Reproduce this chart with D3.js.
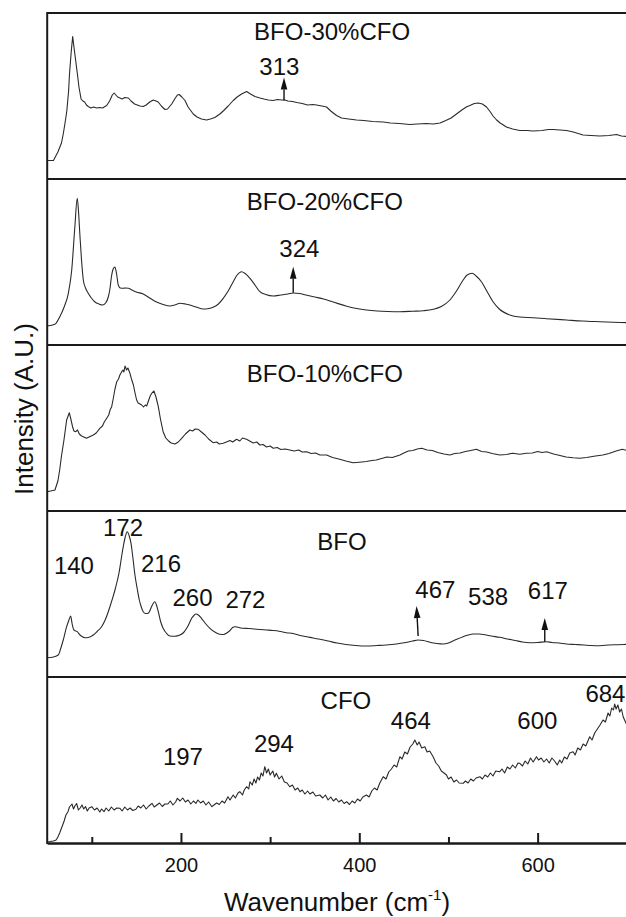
<!DOCTYPE html>
<html>
<head>
<meta charset="utf-8">
<script src="https://cdn.jsdelivr.net/npm/d3@7"></script>
<style>
  html, body { margin: 0; padding: 0; background: #fff; }
  svg { display: block; }
  text { font-family: "Liberation Sans", Arial, Helvetica, sans-serif; fill: #111; }
</style>
</head>
<body>
<script>
// Raman spectra of BFO, CFO and BFO–CFO composites (stacked panels)

const titles = ["BFO-30%CFO", "BFO-20%CFO", "BFO-10%CFO", "BFO", "CFO"];

// [wavenumber (cm^-1), intensity (a.u.)]
const bfo30 = [[50,18.5],[57,18.5],[62,27],[66,36],[68,45],[70,56],[72,68],[74,88],[75,105],[77,128],[78.6,142.5],[80,132],[82,118],[84,104],[85.6,92],[88,80],[90,78],[92,77],[94,74],[96,72.5],[99,71],[102,72],[105.5,71],[109,71.5],[112,71],[116.7,73.5],[120,78],[123,84],[125,86],[127,84],[129,82],[131.6,81],[134,80],[137,81.5],[141,81],[144,78],[148,75],[151,74],[154,73],[157.7,72.5],[161,74],[165,77],[169,79],[172,78],[174.5,77],[178,73],[182,69.5],[185,70],[189.6,75],[193,80],[196,84],[198,84.5],[201,82],[204.5,78.5],[208,72],[213.8,65],[218,62],[223,60],[228.8,59],[233,60],[238,61.5],[243.7,65],[248,68.5],[253,73],[258.6,78.5],[263,82],[268,85],[273.6,87.5],[278,85],[283,82.5],[288.6,81],[293,80],[298,79],[303.5,78.5],[308,79.5],[313,79],[316.6,79],[320,78],[325,77.5],[330,76.5],[336,75.5],[342,74],[348,74.5],[352,74],[358,73],[363.3,72],[368,68],[374.5,63.5],[380,61],[388,60],[397,59],[405,58.5],[415,57.5],[426.8,57],[435,56],[445,55.5],[456.7,54.5],[465,55],[475,55.5],[483,55],[490.6,56],[497,58.5],[503,61],[509,65],[515,69],[520,72],[524,73.5],[529,75.5],[533.4,76],[538,75],[542.7,72],[547,67],[550,63],[554,59],[558,56],[565,52],[572,50],[580,48.5],[588,48.5],[595,48],[605,48.5],[612,49.5],[617.4,49.5],[625,49],[632.4,48.5],[640,47],[651,44],[660,43.5],[669.7,43],[680,43.5],[688.5,44.5],[694,43],[700,42.5]];

const bfo20 = [[50,19],[58.7,20.7],[64,28],[69,38],[73.7,51.7],[77.5,75],[81,118],[83.7,146.7],[85,135],[86.8,108],[88.5,85],[90.5,65],[93,57],[96,51.7],[99.5,47],[103.6,43],[108,41],[112,40],[115.5,42],[118.5,48],[120.5,57],[122,68],[124,76],[126,78],[128,70],[129.7,60],[132,57],[135.3,56.7],[138,57],[141,56.7],[145,55],[150,53],[157.7,51],[165,47],[172.6,43],[180,40.5],[187.7,39],[193,40],[199,41.7],[205,41],[210,40],[217,38],[225,36],[230,36.2],[236,37.7],[242,41],[247.4,46.7],[253,54],[258.6,63.3],[263,70],[268,73.3],[272,71.5],[277.4,66.7],[283,60],[288.5,53.3],[295,50.5],[303.5,49],[312,50],[320,51],[326,52],[333,51.5],[340,50],[350,48],[360,46],[370.7,43],[385,39],[397,36.5],[408,35],[420,34],[432,33.5],[445.5,33.3],[460,33.8],[472,34.3],[483,35.7],[492,38.5],[501.6,45],[509,54],[516.5,65],[521,70],[526.6,71.7],[531,69],[537,63.3],[543,54],[550,43.3],[557,36],[568.8,30],[580,28],[595,27.3],[610,26.3],[632.4,25],[650,24],[669.7,23.3],[685,22.8],[700,22.3]];

const bfo10 = [[50,19.3],[58.7,21],[62,30],[64,41],[66,55],[68.8,71],[71.8,91],[74.8,98.3],[76.5,92],[78.6,83.7],[80,80],[82,79.3],[84,81],[86,77],[88.6,75],[91,74],[94,72.7],[97,74],[101.7,76],[105,78],[109,82.7],[112,85],[114,89],[116.7,92.7],[119,96],[120.5,101],[122.3,104.3],[124,112],[126,122],[128,129.3],[130,132],[131.5,136],[133.6,139.3],[135,141],[136,139],[137.3,145],[139,141],[140.5,143],[142.8,137.7],[144.5,132],[146.7,126],[148.5,118],[150.3,111],[152,108],[154,107],[156,106],[158,104],[160,106],[161.6,105],[163.5,110],[165.5,115],[167.2,117.7],[169.7,120],[172,114],[174.6,104.3],[177,92],[180,79.3],[183,73],[185.8,70.3],[189,68],[193.3,67],[197,69],[200.8,72.7],[205,77],[210,81],[213,80],[216,82],[219.4,81.7],[223,79],[227,76],[231,72],[236,68.3],[240,69],[243,67],[247.4,67.7],[251,69],[255,70.5],[258,69],[262.4,71.7],[266,70],[269,73],[273.6,71.7],[277,70],[281,68],[285,69],[288.5,66],[292,66.5],[296,64],[300,65],[303.5,62.7],[308,63.5],[312,61.5],[317,62],[322,61],[327,60],[332,61],[336,59],[341,59.3],[346,57.5],[351,58],[355.8,56],[363.3,56],[370,53.5],[377,52],[385,50],[393,48.3],[400,48.8],[408,49.5],[414,50.5],[419,51],[425,52.5],[431,54],[437,53.5],[445.5,56],[450,58],[455,60],[460,60.5],[465,62],[470,62.7],[476,61],[482,60.5],[488,58.5],[495,57],[501.6,56],[507,57.5],[513,58],[519,59.5],[525,60.5],[531.5,61.7],[537,59.5],[543,59],[549,57.5],[557.6,56],[565,56.5],[572,57.8],[580,56.8],[587.5,57.7],[594,58],[600,59.5],[605,58.5],[610,59.3],[618,57],[625,55.5],[632,54],[640,53.2],[647,52.7],[655,53.5],[663,54.8],[673,56],[680,57.5],[688,60],[695,61.7],[700,60.5]];

const bfo = [[50,19.3],[56,19.8],[62.4,22],[65,28],[68,37],[71.8,50.3],[74,56],[76.3,61],[78,53],[80,47],[83.7,45.3],[86.8,42],[89,40.5],[92.4,39.3],[96,39.5],[101.7,42],[106,45.5],[111,50.3],[115,57],[118.5,65.3],[122,75],[126,87],[128.5,96],[130.8,105.3],[133,118],[135.3,130.3],[137.5,140],[139.8,145.3],[142,141],[144,133.7],[146,120],[148.4,102],[151,88],[153.3,77],[155.5,70],[157.7,65.3],[160.5,63.5],[163.3,63.7],[165,66],[167,70.3],[170.8,75.3],[172.5,72],[174.6,65.3],[177,56],[180,48.7],[184,43.5],[187.7,41],[193,40.8],[198.9,42],[203,44.5],[206.4,48.7],[209,53],[212,58.7],[214.5,61.5],[216.8,63],[219.5,62],[223,58.7],[227,54],[232.5,48.7],[238,45],[243.7,42.7],[248,42.5],[251,43.7],[255,46.5],[258,49.5],[260.5,50.3],[264,49.7],[269.8,48.7],[276,48.5],[282,48],[289,47.5],[296,47],[303,46.5],[310,45.8],[318.4,44.3],[326,43.5],[333.4,41.5],[341,40.3],[348,39],[355.8,37.7],[365,36],[375,34],[385,32.5],[396,31.5],[408,31],[420,31.5],[430,32],[441.6,33],[452,34.5],[460,36],[466,37],[472,36.5],[480,34.5],[487,33.5],[494,33],[500,34],[505,36],[510,38],[516.5,40.3],[522,42],[528,43],[535,43],[541,42.2],[548,41],[557.6,39.7],[566,38],[575,36.5],[583,35],[591,34.3],[600,34.5],[610,35.3],[616,34.5],[624,34],[632.4,33],[642,32.5],[652,32],[660,31.5],[669.7,31.3],[680,32],[690,32.3],[700,32.7]];

const cfo = [[50,1.3],[53,1.5],[57,2],[60,3],[62,6],[64,10],[66.6,16.3],[69,22],[71,28],[73.3,31.3],[75,36],[77.8,39],[79.5,34],[81,37],[83,39.5],[85,33],[87,35],[89,38],[91,34],[93,36.5],[95,32],[97,35],[100,36.3],[103,33],[106,35],[109,31],[111,34],[113.7,31.3],[116,35],[119,32],[122,36],[125,33],[128,35],[131.6,34.7],[134,32],[137,36],[140,33],[143,35],[146,32.5],[149.5,33.7],[152,37],[155,35],[158,38],[161,34],[164,37],[167.5,39.7],[170,36],[173,38],[176,40],[179,36.5],[182,39],[185.4,39],[188,42],[191,38],[194,41],[196,44.7],[199,42],[202,45],[205,41],[208,43],[211,39],[214,42],[216.8,39.7],[219,43],[222,40],[225,42],[228,38],[231,41],[234.7,36.3],[237,38],[240,40],[243,38.5],[246,42],[249,40],[252.7,46.3],[255,43],[258.6,48],[261,45],[264,50],[266,51.3],[269,48],[271,53],[273.6,56.3],[276,54],[277.4,61.3],[280,58],[282,64],[284,60],[286,66],[288,63],[290,70],[292,67],[294,76.3],[296,70],[298,74],[300,68],[303,72],[305,66],[307,69.7],[310,64],[313,67],[316,61],[319,60],[322,56.3],[325,58],[328,53],[331,55],[333.4,51.3],[336,53],[339,49],[342,52],[344.6,49],[348,51],[351,47],[355.8,48],[359,45],[362,48],[365,43],[368,46],[371,42],[374,44.5],[377,41],[380,43],[383,39.5],[385.8,41.3],[389,38.5],[392,42],[395,40],[398,44],[401,42],[404,46],[408,48],[411,46],[414,52],[417,55],[420,53],[423,60],[426.8,66.3],[430,64],[433,71],[436,74],[439,78],[442,76],[445.5,86.3],[448,84],[451,91],[454,89],[457,96],[460,99],[462.3,103],[465,98],[467,101],[470,95],[473.5,96.3],[476,91],[479,92],[482.8,86.3],[486,80],[489,77],[492,72],[495,70],[497.8,68],[500,64],[503,66],[506,61],[509,63],[512,60],[516.5,59.7],[519,62],[522,60],[525,64],[528,62],[531,65],[535.3,66.3],[538,64],[541,68],[544,66],[547,70],[550,67],[553,72],[557.6,71.3],[560,74],[563,70],[566,76],[569,74],[572,78],[575,75],[578,80],[580,79.7],[583,77],[586,82],[589,79],[592,85],[595,81],[598.7,86.3],[601,83],[604,85],[607,81],[610,84],[613,80],[616,85],[619,82],[622,78],[624.8,83],[627,80],[630,86],[633,84],[636,90],[639.7,91.3],[642,88],[645,95],[648,93],[651,99],[654,97],[658.4,106.3],[661,103],[664,110],[667,114],[670,118],[673.3,123],[676,121],[679,130],[681,127],[683,135],[685,133],[686.4,139],[688,134],[690,138],[692,131],[694,134],[696,126],[698,122],[700,118]];

const seriesList = [bfo30, bfo20, bfo10, bfo, cfo];
const smoothPanels = [false, true, false, true, false];

// Peak labels: panel index, text, wavenumber, intensity of the text baseline
const peakLabels = [
  [0, "313", 310.4, 104.5],
  [1, "324", 332.8, 88],
  [3, "140", 80, 103], [3, "172", 135, 141], [3, "216", 177.6, 105],
  [3, "260", 213, 71.3], [3, "272", 272.3, 69], [3, "467", 485.3, 79],
  [3, "538", 544.5, 72], [3, "617", 611.5, 78],
  [4, "197", 202.2, 78], [4, "294", 304.3, 91], [4, "464", 457.8, 114],
  [4, "600", 599.7, 114], [4, "684", 676, 141.3]
];
// Arrows: panel index, tail [wn, intensity], head [wn, intensity]
const peakArrows = [
  [0, [315.6, 78.5], [315.6, 101.5]],
  [1, [325.9, 52.3], [325.9, 78.3]],
  [3, [466, 41], [464.2, 71]],
  [3, [608, 35.3], [608, 59]]
];
// Panel titles: wavenumber of centre, intensity of baseline
const titlePos = [[369.5, 139.2], [361.4, 135], [361.4, 129.3], [380.5, 127], [385, 134]];

const xTicksMajor = [200, 400, 600];
const xTicksMinor = [100, 300, 500, 700];

const W = 626, H = 917;
const plotLeft = 47.2, plotRight = 626.8, plotTop = 13, plotBottom = 843;

const svg = d3.select("body").append("svg").attr("width", W).attr("height", H);

const x = d3.scaleLinear().domain([50, 700]).range([plotLeft, plotRight]);
const band = d3.scaleBand().domain(d3.range(titles.length)).range([plotTop, plotBottom]).paddingInner(0);
const ph = band.bandwidth();
const yScales = d3.range(titles.length).map(i =>
  d3.scaleLinear().domain([0, ph]).range([band(i) + ph, band(i)]));

svg.append("clipPath").attr("id", "plotclip")
  .append("rect").attr("x", plotLeft).attr("y", plotTop)
  .attr("width", plotRight - plotLeft).attr("height", plotBottom - plotTop);

// spectra
const plot = svg.append("g").attr("clip-path", "url(#plotclip)");
seriesList.forEach((data, i) => {
  const y = yScales[i];
  const line = d3.line().x(d => x(d[0])).y(d => y(d[1]))
    .curve(smoothPanels[i] ? d3.curveMonotoneX : d3.curveLinear);
  plot.append("path").datum(data)
    .attr("d", line)
    .attr("fill", "none")
    .attr("stroke", "#2a2a2a")
    .attr("stroke-width", 1.1)
    .attr("stroke-linejoin", "round");
});

// frame: left axis, top border and panel separators
const frame = svg.append("g").attr("stroke", "#1a1a1a").attr("stroke-width", 2).attr("fill", "none");
frame.append("line").attr("x1", plotLeft).attr("x2", plotLeft).attr("y1", plotTop - 1).attr("y2", plotBottom + 1);
d3.range(titles.length).forEach(i => {
  frame.append("line").attr("x1", plotLeft).attr("x2", plotRight)
    .attr("y1", band(i)).attr("y2", band(i));
});

// bottom axis
const axMinor = d3.axisBottom(x).tickValues(xTicksMinor).tickSizeInner(-6).tickSizeOuter(0).tickFormat("");
const axMajor = d3.axisBottom(x).tickValues(xTicksMajor).tickSizeInner(-10).tickSizeOuter(0).tickPadding(15);
const gMinor = svg.append("g").attr("transform", `translate(0,${plotBottom})`).call(axMinor);
const gMajor = svg.append("g").attr("transform", `translate(0,${plotBottom})`).call(axMajor);
[gMinor, gMajor].forEach(g => {
  g.select(".domain").attr("stroke", "#1a1a1a").attr("stroke-width", 2);
  g.selectAll(".tick line").attr("stroke", "#1a1a1a").attr("stroke-width", 2);
});
gMajor.selectAll(".tick text")
  .style("font-size", "20px")
  .style("font-family", "'Liberation Sans', Arial, sans-serif")
  .attr("fill", "#111");

// axis titles
const xt = svg.append("text")
  .attr("x", (plotLeft + plotRight) / 2).attr("y", 911)
  .attr("text-anchor", "middle").style("font-size", "26px");
xt.append("tspan").text("Wavenumber (cm");
xt.append("tspan").style("font-size", "15px").attr("dy", -11).text("-1");
xt.append("tspan").attr("dy", 11).text(")");

svg.append("text")
  .attr("transform", "translate(32.5,409) rotate(-90)")
  .attr("text-anchor", "middle").style("font-size", "26px")
  .text("Intensity (A.U.)");

// panel titles
titles.forEach((t, i) => {
  svg.append("text")
    .attr("x", x(titlePos[i][0])).attr("y", yScales[i](titlePos[i][1]))
    .attr("text-anchor", "middle").style("font-size", "24px")
    .text(t);
});

// peak labels
svg.append("g").selectAll("text").data(peakLabels).join("text")
  .attr("x", d => x(d[2])).attr("y", d => yScales[d[0]](d[3]))
  .attr("text-anchor", "middle").style("font-size", "24px")
  .text(d => d[1]);

// arrows
const ag = svg.append("g");
peakArrows.forEach(([p, tail, head]) => {
  const y = yScales[p];
  const x0 = x(tail[0]), y0 = y(tail[1]), x1 = x(head[0]), y1 = y(head[1]);
  const len = Math.hypot(x1 - x0, y1 - y0);
  const ux = (x1 - x0) / len, uy = (y1 - y0) / len;
  const hl = 12, hw = 3.3;
  const bx = x1 - ux * hl, by = y1 - uy * hl;
  ag.append("line").attr("x1", x0).attr("y1", y0).attr("x2", bx).attr("y2", by)
    .attr("stroke", "#111").attr("stroke-width", 1.4);
  ag.append("path")
    .attr("d", `M${x1},${y1}L${bx - uy * hw},${by + ux * hw}L${bx + uy * hw},${by - ux * hw}Z`)
    .attr("fill", "#111");
});
</script>
</body>
</html>
